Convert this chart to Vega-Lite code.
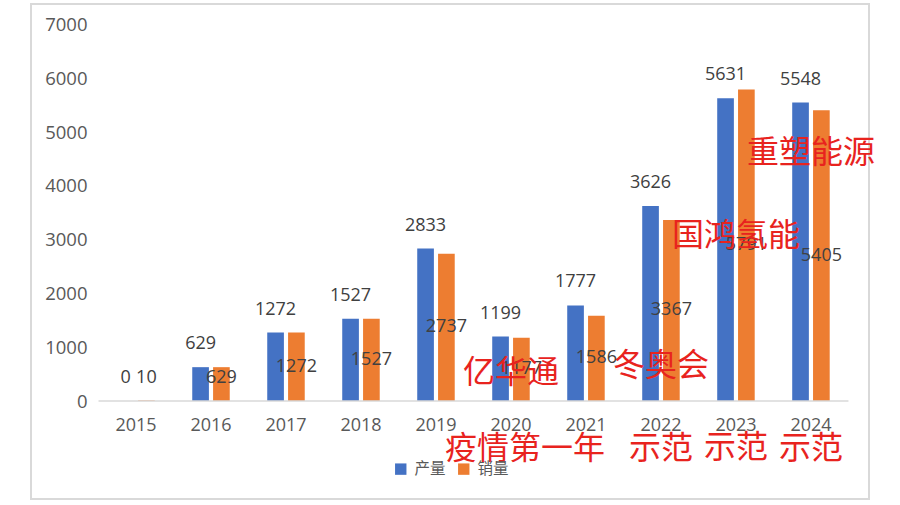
{
  "$schema": "https://vega.github.io/schema/vega-lite/v6.json",
  "width": 838,
  "height": 495,
  "autosize": {"type": "none"},
  "padding": {"left": 31, "top": 4, "right": 31, "bottom": 6},
  "background": "white",
  "config": {
    "view": {"stroke": "#d9d9d9", "strokeWidth": 2},
    "font": "Noto Sans CJK SC"
  },
  "datasets": {
    "main": [
      {"year": "2015", "series": "产量", "value": 0},
      {"year": "2015", "series": "销量", "value": 10},
      {"year": "2016", "series": "产量", "value": 629},
      {"year": "2016", "series": "销量", "value": 629},
      {"year": "2017", "series": "产量", "value": 1272},
      {"year": "2017", "series": "销量", "value": 1272},
      {"year": "2018", "series": "产量", "value": 1527},
      {"year": "2018", "series": "销量", "value": 1527},
      {"year": "2019", "series": "产量", "value": 2833},
      {"year": "2019", "series": "销量", "value": 2737},
      {"year": "2020", "series": "产量", "value": 1199},
      {"year": "2020", "series": "销量", "value": 1177},
      {"year": "2021", "series": "产量", "value": 1777},
      {"year": "2021", "series": "销量", "value": 1586},
      {"year": "2022", "series": "产量", "value": 3626},
      {"year": "2022", "series": "销量", "value": 3367},
      {"year": "2023", "series": "产量", "value": 5631},
      {"year": "2023", "series": "销量", "value": 5791},
      {"year": "2024", "series": "产量", "value": 5548},
      {"year": "2024", "series": "销量", "value": 5405}
    ],
    "notes": [
      {"year": "2020", "note": "亿华通", "v": 520},
      {"year": "2022", "note": "冬奥会", "v": 650},
      {"year": "2022", "note": "示范", "v": -900},
      {"year": "2023", "note": "国鸿氢能", "v": 3070},
      {"year": "2023", "note": "示范", "v": -880},
      {"year": "2024", "note": "重塑能源", "v": 4610},
      {"year": "2024", "note": "示范", "v": -900}
    ],
    "notes2": [
      {"year": "2020", "note": "疫情第一年", "v": -900}
    ],
    "base": [{"a": "2015", "b": "2024", "y": 0}]
  },
  "layer": [
    {
      "data": {"name": "main"},
      "mark": {"type": "bar"},
      "encoding": {
        "x": {
          "field": "year",
          "type": "nominal",
          "scale": {"paddingInner": 0.5, "paddingOuter": 0.837, "align": 0.687},
          "axis": {
            "title": null,
            "offset": -98,
            "domain": false,
            "ticks": false,
            "labelAngle": 0,
            "labelFont": "Open Sans",
            "labelFontSize": 18,
            "labelColor": "#595959",
            "labelPadding": 15
          }
        },
        "xOffset": {
          "field": "series",
          "type": "nominal",
          "scale": {"domain": ["产量", "销量"], "paddingInner": 0.2, "paddingOuter": 0}
        },
        "y": {
          "field": "value",
          "type": "quantitative",
          "scale": {"domain": [-1822, 7381], "nice": false, "zero": false},
          "axis": {
            "title": null,
            "values": [0, 1000, 2000, 3000, 4000, 5000, 6000, 7000],
            "format": "d",
            "offset": -60,
            "domain": false,
            "ticks": false,
            "grid": false,
            "labelPadding": 4,
            "labelFont": "Open Sans",
            "labelFontSize": 18.5,
            "labelColor": "#595959"
          }
        },
        "color": {
          "field": "series",
          "type": "nominal",
          "scale": {"domain": ["产量", "销量"], "range": ["#4472C4", "#ED7D31"]},
          "legend": {
            "title": null,
            "orient": "none",
            "direction": "horizontal",
            "legendX": 362,
            "legendY": 457,
            "symbolType": "square",
            "symbolSize": 130,
            "symbolStrokeWidth": 0,
            "labelFontSize": 15.5,
            "labelColor": "#595959",
            "labelOffset": 6,
            "columnPadding": 10
          }
        }
      }
    },
    {
      "data": {"name": "base"},
      "mark": {"type": "rule", "color": "#d9d9d9", "strokeWidth": 1.5},
      "encoding": {
        "x": {"field": "a", "type": "nominal", "bandPosition": -0.5},
        "x2": {"field": "b", "bandPosition": 1.5},
        "y": {"field": "y", "type": "quantitative"}
      }
    },
    {
      "data": {"name": "main"},
      "transform": [{"filter": "datum.series === '产量'"}],
      "mark": {"type": "text", "baseline": "middle", "dy": -23, "font": "Open Sans", "fontSize": 18, "color": "#404040"},
      "encoding": {
        "x": {"field": "year", "type": "nominal"},
        "xOffset": {"field": "series", "type": "nominal"},
        "y": {"field": "value", "type": "quantitative"},
        "text": {"field": "value", "type": "quantitative", "format": "d"}
      }
    },
    {
      "data": {"name": "main"},
      "transform": [
        {"filter": "datum.series === '销量'"},
        {"calculate": "max(datum.value / 2, 428)", "as": "ly"}
      ],
      "mark": {"type": "text", "baseline": "middle", "font": "Open Sans", "fontSize": 18, "color": "#404040"},
      "encoding": {
        "x": {"field": "year", "type": "nominal"},
        "xOffset": {"field": "series", "type": "nominal"},
        "y": {"field": "ly", "type": "quantitative"},
        "text": {"field": "value", "type": "quantitative", "format": "d"}
      }
    },
    {
      "data": {"name": "notes"},
      "mark": {"type": "text", "baseline": "middle", "fontSize": 32, "color": "#E8231E"},
      "encoding": {
        "x": {"field": "year", "type": "nominal"},
        "y": {"field": "v", "type": "quantitative"},
        "text": {"field": "note", "type": "nominal"}
      }
    },
    {
      "data": {"name": "notes2"},
      "mark": {"type": "text", "baseline": "middle", "fontSize": 32, "dx": 14, "color": "#E8231E"},
      "encoding": {
        "x": {"field": "year", "type": "nominal"},
        "y": {"field": "v", "type": "quantitative"},
        "text": {"field": "note", "type": "nominal"}
      }
    }
  ]
}
